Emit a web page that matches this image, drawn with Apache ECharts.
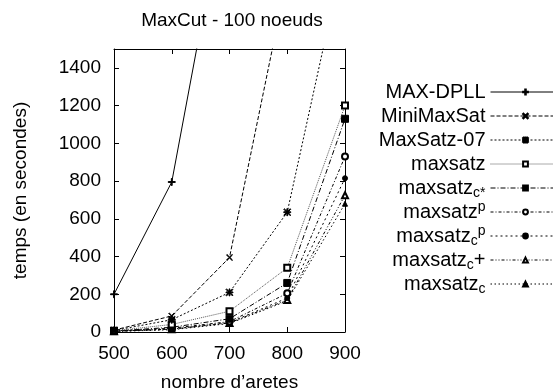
<!DOCTYPE html>
<html><head><meta charset="utf-8">
<script src="https://cdn.jsdelivr.net/npm/echarts@6/dist/echarts.min.js"></script>
<style>html,body{margin:0;padding:0;background:#fff}#c{width:553px;height:392px}</style>
</head><body><div id="c"></div>
<script>
const xValues = [500, 600, 700, 800, 900];
const yTicks = [0, 200, 400, 600, 800, 1000, 1200, 1400];
const seriesNames = ['MAX-DPLL', 'MiniMaxSat', 'MaxSatz-07', 'maxsatz', 'maxsatz_c*', 'maxsatz^p', 'maxsatz_c^p', 'maxsatz_c+', 'maxsatz_c'];
const maxDpll    = [200, 795, 2430, null, null];
const miniMaxSat = [10, 85, 395, 1885, null];
const maxSatz07  = [8, 65, 210, 635, 2030];
const maxsatz    = [6, 40, 110, 340, 1200];
const maxsatzCs  = [5, 25, 70, 260, 1130];
const maxsatzP   = [5, 20, 55, 205, 930];
const maxsatzCP  = [4, 15, 50, 180, 815];
const maxsatzCplus = [4, 15, 48, 170, 725];
const maxsatzC   = [3, 12, 45, 165, 680];
const allData = [maxDpll, miniMaxSat, maxSatz07, maxsatz, maxsatzCs, maxsatzP, maxsatzCP, maxsatzCplus, maxsatzC];

const FONT = "'Liberation Sans', Arial, Helvetica, sans-serif";
const FS = 19;
const LFS = 20;
const plus = 'path://M4.4,0h1.2v10h-1.2zM0,4.4h10v1.2h-10z';
const cross = 'path://M0,0.8L0.8,0L5,4.2L9.2,0L10,0.8L5.8,5L10,9.2L9.2,10L5,5.8L0.8,10L0,9.2L4.2,5Z';
const star = 'path://M4.4,0h1.2v10h-1.2zM0,4.4h10v1.2h-10zM0,0.8L0.8,0L5,4.2L9.2,0L10,0.8L5.8,5L10,9.2L9.2,10L5,5.8L0.8,10L0,9.2L4.2,5Z';

const styles = [
  {symbol: plus, size: 7, dash: 'solid', color: '#000'},
  {symbol: cross, size: 6, dash: [4, 2], color: '#000'},
  {symbol: star, size: 7, dash: [2, 2], color: '#000'},
  {symbol: 'emptyRect', size: 6, dash: [1, 1], color: '#555'},
  {symbol: 'rect', size: 7, dash: [5, 2, 1, 2], color: '#000'},
  {symbol: 'emptyCircle', size: 6, dash: [3, 2, 1, 2], color: '#000'},
  {symbol: 'circle', size: 5, dash: [2, 3], color: '#000'},
  {symbol: 'emptyTriangle', size: 6, dash: [3, 2, 1, 2, 1, 2], color: '#000'},
  {symbol: 'triangle', size: 5, dash: [1.5, 2.5], color: '#000'}
];

function fmtName(n) {
  if (n === 'maxsatz_c*') return '{m|maxsatz}{sub|c*}';
  if (n === 'maxsatz^p') return '{m|maxsatz}{sup|p}';
  if (n === 'maxsatz_c^p') return '{m|maxsatz}{sub|c}{sup|p}';
  if (n === 'maxsatz_c+') return '{m|maxsatz}{sub|c}{m|+}';
  if (n === 'maxsatz_c') return '{m|maxsatz}{sub|c}';
  return '{m|' + n + '}';
}

const series = seriesNames.map((name, i) => ({
  name: name,
  type: 'line',
  data: xValues.map((x, j) => [x, allData[i][j]]).filter(p => p[1] !== null),
  symbol: styles[i].symbol,
  symbolSize: styles[i].size,
  showAllSymbol: true,
  clip: true,
  lineStyle: {color: styles[i].color, width: 1, type: styles[i].dash},
  itemStyle: {color: '#000', borderColor: '#000', borderWidth: 1},
  emphasis: {disabled: true},
  animation: false,
  z: 10 - i
}));

const chart = echarts.init(document.getElementById('c'), null, {renderer: 'canvas'});
chart.setOption({
  animation: false,
  backgroundColor: '#fff',
  textStyle: {fontFamily: FONT, color: '#000'},
  title: {
    text: 'MaxCut - 100 noeuds',
    left: 227, top: 6, textAlign: 'center',
    textStyle: {fontFamily: FONT, fontSize: FS, fontWeight: 'normal', color: '#000'}
  },
  grid: {left: 114, right: 208, top: 49, bottom: 60, containLabel: false, outerBoundsMode: 'none'},
  legend: {
    orient: 'vertical', right: -8, top: 80, align: 'right', padding: 0,
    itemWidth: 70, itemHeight: 6, itemGap: 0,
    selectedMode: false,
    formatter: fmtName,
    lineStyle: {width: 1},
    textStyle: {
      fontFamily: FONT, fontSize: LFS, color: '#000', lineHeight: 24,
      rich: {
        m: {fontFamily: FONT, fontSize: LFS, color: '#000', lineHeight: 24},
        sub: {fontFamily: FONT, fontSize: 14, color: '#000', lineHeight: 12, verticalAlign: 'bottom'},
        sup: {fontFamily: FONT, fontSize: 14, color: '#000', lineHeight: 12, verticalAlign: 'top'}
      }
    }
  },
  xAxis: [{
    type: 'value', min: 500, max: 900, interval: 100, position: 'bottom',
    name: 'nombre d’aretes', nameLocation: 'middle', nameGap: 41,
    nameTextStyle: {fontFamily: FONT, fontSize: FS, color: '#000'},
    axisLine: {show: true, lineStyle: {color: '#000', width: 1}},
    axisTick: {show: true, inside: true, length: 5, lineStyle: {color: '#000'}},
    axisLabel: {fontFamily: FONT, fontSize: FS, color: '#000', margin: 12},
    splitLine: {show: false}
  }, {
    type: 'value', min: 500, max: 900, interval: 100, position: 'top',
    axisLine: {show: true, onZero: false, lineStyle: {color: '#000', width: 1}},
    axisTick: {show: true, inside: true, length: 5, lineStyle: {color: '#000'}},
    axisLabel: {show: false}, splitLine: {show: false}
  }],
  yAxis: [{
    type: 'value', min: 0, max: 1500, interval: 200, position: 'left',
    name: 'temps (en secondes)', nameLocation: 'middle', nameGap: 84, nameRotate: 90,
    nameTextStyle: {fontFamily: FONT, fontSize: FS, color: '#000'},
    axisLine: {show: true, lineStyle: {color: '#000', width: 1}},
    axisTick: {show: true, inside: true, length: 5, lineStyle: {color: '#000'}},
    axisLabel: {fontFamily: FONT, fontSize: FS, color: '#000', margin: 13,
      formatter: v => (yTicks.indexOf(v) >= 0 ? String(v) : '')},
    splitLine: {show: false}
  }, {
    type: 'value', min: 0, max: 1500, interval: 200, position: 'right',
    axisLine: {show: true, onZero: false, lineStyle: {color: '#000', width: 1}},
    axisTick: {show: true, inside: true, length: 5, lineStyle: {color: '#000'}},
    axisLabel: {show: false}, splitLine: {show: false}
  }],
  series: series
});
</script></body></html>
